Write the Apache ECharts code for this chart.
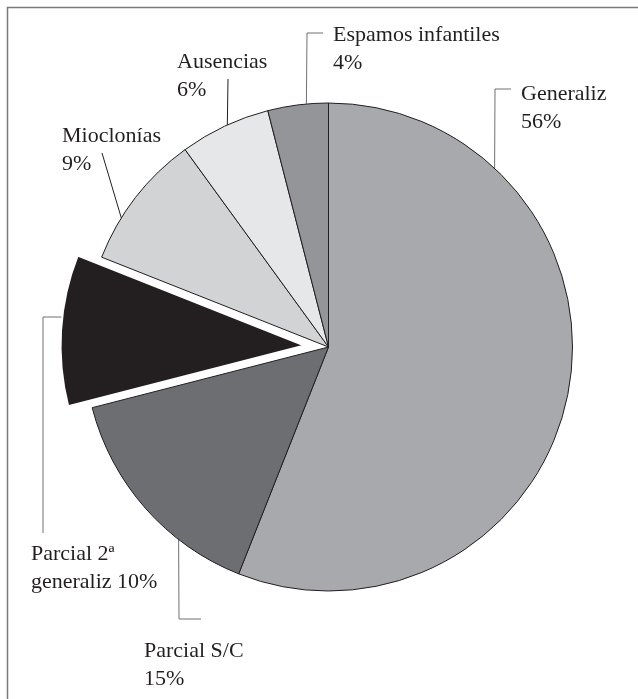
<!DOCTYPE html>
<html>
<head>
<meta charset="utf-8">
<style>
  html, body { margin: 0; padding: 0; background: #ffffff; }
  #chart { width: 638px; height: 699px; }
</style>
<script src="https://cdn.jsdelivr.net/npm/echarts@6/dist/echarts.min.js"></script>
</head>
<body>
<div id="chart"></div>
<script>
// Seizure types, clockwise from twelve o'clock
const categories = ['Generaliz', 'Parcial S/C', 'Parcial 2ª\ngeneraliz', 'Mioclonías', 'Ausencias', 'Espamos infantiles'];
const percents = [56, 15, 10, 9, 6, 4];
const explodedIndex = 2;

// Slice fills and leader-line colours
const sliceColors = ['#a7a9ac', '#6d6e71', '#231f20', '#d1d3d4', '#e6e7e8', '#939598'];
const leaderColors = ['#707070', '#707070', '#707070', '#231f20', '#231f20', '#707070'];

const CX = 328.5, CY = 347, R = 244, OFFSET = 24;

// Label placement: text top-left, angle where the leader leaves the rim, and leader bends
const labelPlacement = [
  { x: 521, y: 80,  angle: 42.9,  bends: [[495, 89], [511, 89]] },
  { x: 144, y: 637, angle: 217.9, bends: [[179, 619], [201, 619]] },
  { x: 31,  y: 540, angle: 276.7, bends: [[43, 317], [43, 533]] },
  { x: 62,  y: 122, angle: 301.9, bends: [[102, 153]] },
  { x: 177, y: 48,  angle: 335.5, bends: [[228, 79]] },
  { x: 333, y: 21,  angle: 354.8, bends: [[307, 33], [323, 33]] }
];

// Centre of the pulled-out slice, moved outward along its mid-angle
const total = percents.reduce((a, b) => a + b, 0);
const before = percents.slice(0, explodedIndex).reduce((a, b) => a + b, 0);
const midAngle = (before + percents[explodedIndex] / 2) / total * 2 * Math.PI;
const EX = CX + OFFSET * Math.sin(midAngle);
const EY = CY - OFFSET * Math.cos(midAngle);

function rimPoint(i, deg) {
  const c = i === explodedIndex ? [EX, EY] : [CX, CY];
  const a = deg * Math.PI / 180;
  return [c[0] + R * Math.sin(a), c[1] - R * Math.cos(a)];
}

const hidden = { color: 'rgba(0,0,0,0)', borderWidth: 0 };

// Main pie: every slice except the pulled-out one, plus all labels
const mainData = categories.map((name, i) => ({
  name: name,
  value: percents[i],
  itemStyle: i === explodedIndex ? hidden : { color: sliceColors[i], borderColor: '#231f20', borderWidth: 1 },
  labelLine: { lineStyle: { color: leaderColors[i], width: 1 } }
}));

// Offset pie: only the pulled-out slice is painted
const explodedData = categories.map((name, i) => ({
  name: name,
  value: percents[i],
  itemStyle: i === explodedIndex ? { color: sliceColors[i], borderColor: '#ffffff', borderWidth: 2 } : hidden
}));

const chart = echarts.init(document.getElementById('chart'), null, { renderer: 'canvas' });

chart.setOption({
  animation: false,
  backgroundColor: '#ffffff',
  graphic: [{
    type: 'polyline',
    silent: true,
    shape: { points: [[7.5, 699], [7.5, 7.5], [638, 7.5]] },
    style: { stroke: '#7a7a7a', lineWidth: 1.5, fill: null }
  }],
  series: [{
    type: 'pie',
    z: 2,
    center: [CX, CY],
    radius: R,
    startAngle: 90,
    clockwise: true,
    avoidLabelOverlap: false,
    silent: true,
    emphasis: { disabled: true },
    label: {
      show: true,
      position: 'outside',
      fontFamily: 'Liberation Serif',
      fontSize: 22,
      lineHeight: 28,
      color: '#231f20',
      formatter: p => p.name + (p.name.indexOf('\n') >= 0 ? ' ' : '\n') + p.value + '%'
    },
    labelLine: { show: true, length: 10, length2: 10, smooth: false },
    labelLayout: function (params) {
      const i = params.dataIndex;
      const lp = labelPlacement[i];
      return {
        x: lp.x,
        y: lp.y,
        align: 'left',
        verticalAlign: 'top',
        labelLinePoints: [rimPoint(i, lp.angle)].concat(lp.bends)
      };
    },
    data: mainData
  }, {
    type: 'pie',
    z: 3,
    center: [EX, EY],
    radius: R,
    startAngle: 90,
    clockwise: true,
    silent: true,
    emphasis: { disabled: true },
    label: { show: false },
    labelLine: { show: false },
    data: explodedData
  }]
});
</script>
</body>
</html>
